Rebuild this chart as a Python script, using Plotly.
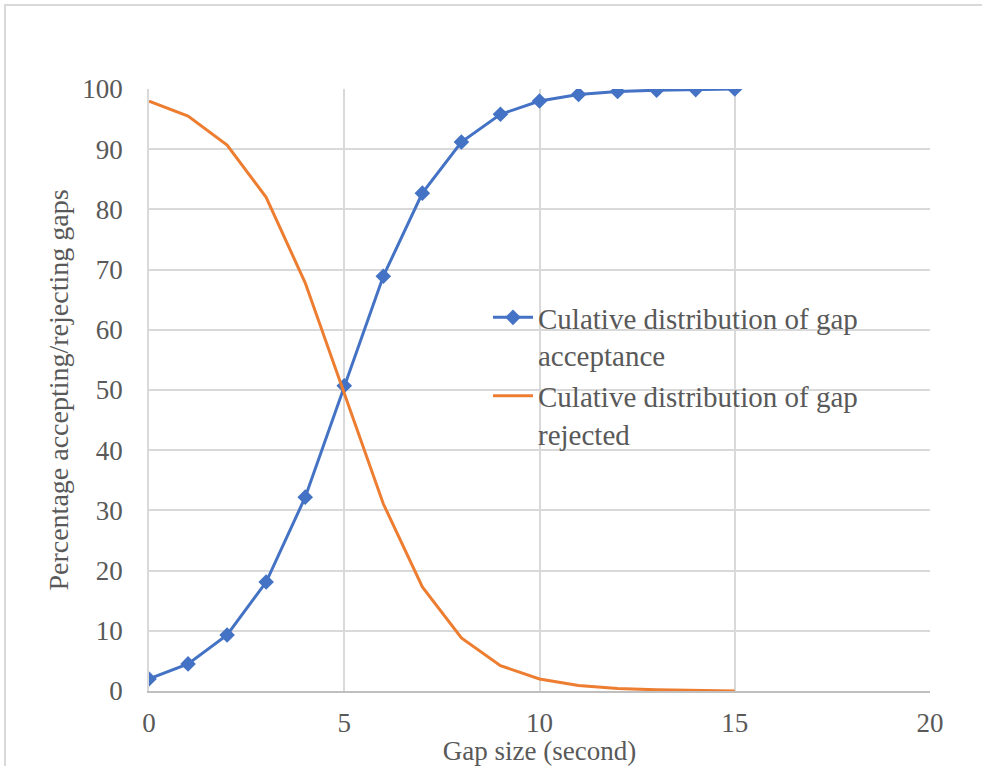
import plotly.graph_objects as go

gap_size = list(range(0, 16))
accepted = [2.0, 4.5, 9.3, 18.1, 32.2, 50.7, 68.9, 82.7, 91.2, 95.8, 98.0, 99.1, 99.6, 99.8, 99.9, 100.0]
rejected = [98.0, 95.5, 90.7, 82.0, 67.8, 49.3, 31.1, 17.3, 8.8, 4.2, 2.0, 0.9, 0.4, 0.2, 0.1, 0.0]

name_acc = "Culative distribution of gap<br>acceptance"
name_rej = "Culative distribution of gap<br>rejected"

font_family = "Liberation Serif, Times New Roman, serif"
txt_col = "#595959"

fig = go.Figure()
fig.add_trace(go.Scatter(x=gap_size, y=accepted, mode="lines+markers", name=name_acc,
                         line=dict(color="#4472C4", width=3),
                         marker=dict(symbol="diamond", size=12, color="#4472C4")))
fig.add_trace(go.Scatter(x=gap_size, y=rejected, mode="lines", name=name_rej,
                         line=dict(color="#ED7D31", width=3)))

L, R, T, B = 149, 52, 89, 75
W, H = 982, 766
pw, ph = W - L - R, H - T - B

fig.update_layout(
    width=W, height=H,
    margin=dict(l=L, r=R, t=T, b=B, autoexpand=False),
    paper_bgcolor="white", plot_bgcolor="white",
    font=dict(family=font_family, color=txt_col, size=27),
    showlegend=True,
    legend=dict(x=(488 - L) / pw, y=1 - (292 - T) / ph, xanchor="left", yanchor="top",
                valign="top",
                font=dict(size=29, color=txt_col), bgcolor="rgba(0,0,0,0)",
                itemwidth=40),
    xaxis=dict(range=[0, 20], dtick=5, showgrid=True, gridcolor="#d9d9d9", gridwidth=1.5,
               showline=True, linecolor="#bfbfbf", linewidth=1.5, zeroline=False,
               automargin=False,
               ticks="", ticklabelstandoff=7, tickfont=dict(size=27, color=txt_col),
               title=dict(text="Gap size (second)", standoff=4, font=dict(size=27, color=txt_col))),
    yaxis=dict(range=[0, 100], dtick=10, showgrid=True, gridcolor="#d9d9d9", gridwidth=1.5,
               showline=True, linecolor="#d9d9d9", linewidth=1.5, zeroline=False,
               automargin=False,
               ticks="", ticklabelstandoff=19, tickfont=dict(size=27, color=txt_col),
               title=dict(text="Percentage accepting/rejecting gaps", standoff=6,
                          font=dict(size=28, color=txt_col))),
)

fig.add_shape(type="rect", xref="paper", yref="paper",
              x0=(5 - L) / pw, x1=(W + 5 - L) / pw,
              y0=1 - (H + 5 - T) / ph, y1=1 - (5 - T) / ph,
              line=dict(color="#d9d9d9", width=2), fillcolor="rgba(0,0,0,0)", layer="below")

fig.write_html("out.html")
